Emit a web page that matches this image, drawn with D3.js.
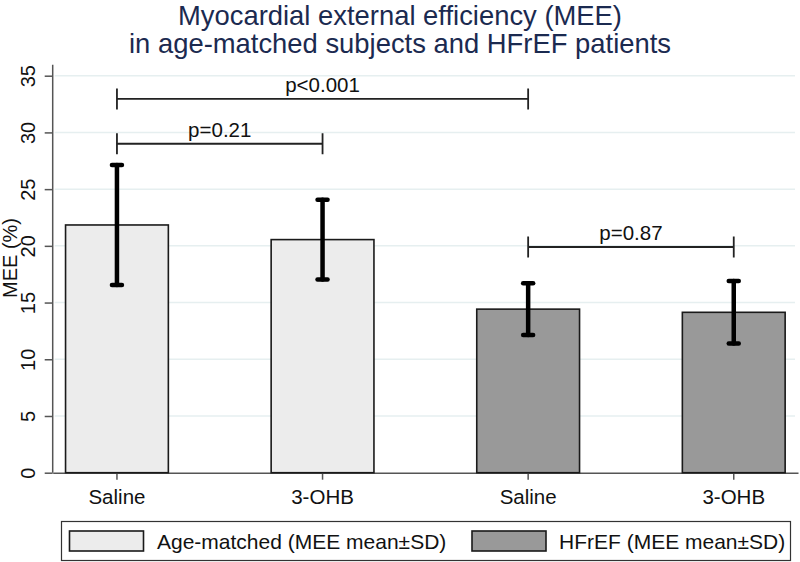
<!DOCTYPE html>
<html>
<head>
<meta charset="utf-8">
<script src="https://cdn.jsdelivr.net/npm/d3@7"></script>
<style>
  body { margin: 0; background: #fff; }
  svg text { font-family: "Liberation Sans", Arial, sans-serif; }
</style>
</head>
<body>
<div class="mee-plot"></div>
<script>
const groups = ['Saline', '3-OHB', 'Saline', '3-OHB'];
const cohort = ['Age-matched', 'Age-matched', 'HFrEF', 'HFrEF'];
const meanMEE = [21.84, 20.55, 14.42, 14.14];
const sdMEE = [5.29, 3.52, 2.28, 2.76];
const yTicks = [0, 5, 10, 15, 20, 25, 30, 35];
const legendLabels = ['Age-matched (MEE mean±SD)', 'HFrEF (MEE mean±SD)'];
// comparisons: from bar, to bar, height, label
const pFrom = [0, 0, 2];
const pTo = [2, 1, 3];
const pLevel = [32.95, 29.0, 19.9];
const pLabels = ['p<0.001', 'p=0.21', 'p=0.87'];

const width = 800;
const height = 562;
const plotLeft = 52.7, plotRight = 798;
const plotTop = 75.7, plotBottom = 472.7;

const svg = d3.select('.mee-plot')
  .append('svg')
  .attr('width', width)
  .attr('height', height);

const x = d3.scaleBand()
  .domain(d3.range(groups.length))
  .range([plotLeft, plotRight])
  .paddingInner(0.5)
  .paddingOuter(0.0625);

const y = d3.scaleLinear()
  .domain([0, 35])
  .range([plotBottom, plotTop]);

const fillColor = d3.scaleOrdinal()
  .domain(['Age-matched', 'HFrEF'])
  .range(['#ececec', '#999999']);

// title
svg.append('text')
  .attr('x', 400).attr('y', 25)
  .attr('text-anchor', 'middle')
  .attr('font-size', 27.4)
  .attr('fill', '#1b2a50')
  .text('Myocardial external efficiency (MEE)');
svg.append('text')
  .attr('x', 400).attr('y', 53)
  .attr('text-anchor', 'middle')
  .attr('font-size', 27.4)
  .attr('fill', '#1b2a50')
  .text('in age-matched subjects and HFrEF patients');

// gridlines
svg.append('g')
  .selectAll('line')
  .data(yTicks.filter(d => d > 0))
  .enter()
  .append('line')
  .attr('x1', plotLeft + 2)
  .attr('x2', plotRight - 3)
  .attr('y1', d => y(d))
  .attr('y2', d => y(d))
  .attr('stroke', '#e6eff0')
  .attr('stroke-width', 1.5);

// y axis
const yAxis = svg.append('g')
  .attr('transform', `translate(${plotLeft},0)`)
  .call(d3.axisLeft(y).tickValues(yTicks).tickSize(8).tickSizeOuter(0));
yAxis.select('.domain').attr('stroke', '#555').attr('stroke-width', 1.5)
  .attr('d', `M0,${plotBottom}V${plotTop - 11}`);
yAxis.selectAll('.tick line').attr('stroke', '#555').attr('stroke-width', 1.5);
yAxis.selectAll('.tick text')
  .attr('font-size', 20)
  .attr('fill', '#111')
  .attr('transform', 'rotate(-90)')
  .attr('x', 0)
  .attr('y', -17.5)
  .attr('dy', 0)
  .attr('text-anchor', 'middle');

svg.append('text')
  .attr('transform', 'translate(17,258) rotate(-90)')
  .attr('text-anchor', 'middle')
  .attr('font-size', 20)
  .attr('fill', '#111')
  .text('MEE (%)');

// x axis
const xAxis = svg.append('g')
  .attr('transform', `translate(0,${plotBottom})`)
  .call(d3.axisBottom(x).tickFormat(i => groups[i]).tickSize(7).tickSizeOuter(0));
xAxis.select('.domain').attr('stroke', '#555').attr('stroke-width', 1.5);
xAxis.selectAll('.tick line').attr('stroke', '#555').attr('stroke-width', 1.5);
xAxis.selectAll('.tick text')
  .attr('font-size', 20.5)
  .attr('fill', '#111')
  .attr('y', 31.5)
  .attr('dy', 0);

// bars
svg.append('g')
  .selectAll('rect')
  .data(meanMEE)
  .enter()
  .append('rect')
  .attr('x', (d, i) => x(i))
  .attr('width', x.bandwidth())
  .attr('y', d => y(d))
  .attr('height', d => y(0) - y(d))
  .attr('fill', (d, i) => fillColor(cohort[i]))
  .attr('stroke', '#1a1a1a')
  .attr('stroke-width', 1.6);

// error bars
const errG = svg.append('g')
  .attr('stroke', '#000')
  .attr('stroke-linecap', 'round');
meanMEE.forEach((m, i) => {
  const cx = x(i) + x.bandwidth() / 2;
  const hi = y(m + sdMEE[i]);
  const lo = y(m - sdMEE[i]);
  errG.append('line')
    .attr('x1', cx).attr('x2', cx)
    .attr('y1', hi).attr('y2', lo)
    .attr('stroke-width', 4.5);
  [hi, lo].forEach(v => {
    errG.append('line')
      .attr('x1', cx - 5).attr('x2', cx + 5)
      .attr('y1', v).attr('y2', v)
      .attr('stroke-width', 4.5);
  });
});

// significance brackets
const brG = svg.append('g');
pLabels.forEach((lab, k) => {
  const x1 = x(pFrom[k]) + x.bandwidth() / 2;
  const x2 = x(pTo[k]) + x.bandwidth() / 2;
  const yy = y(pLevel[k]);
  brG.append('path')
    .attr('d', `M${x1},${yy}H${x2}M${x1},${yy - 10.5}V${yy + 10.5}M${x2},${yy - 10.5}V${yy + 10.5}`)
    .attr('fill', 'none')
    .attr('stroke', '#222')
    .attr('stroke-width', 1.8);
  brG.append('text')
    .attr('x', (x1 + x2) / 2)
    .attr('y', yy - 7)
    .attr('text-anchor', 'middle')
    .attr('font-size', 20.5)
    .attr('fill', '#111')
    .text(lab);
});

// legend
const legend = svg.append('g');
legend.append('rect')
  .attr('x', 61.5).attr('y', 521.5)
  .attr('width', 729).attr('height', 39)
  .attr('fill', '#fff')
  .attr('stroke', '#333')
  .attr('stroke-width', 1.2);
const legX = [69.5, 472];
const legTextX = [157, 559];
legendLabels.forEach((lab, i) => {
  legend.append('rect')
    .attr('x', legX[i]).attr('y', 531)
    .attr('width', 74).attr('height', 20)
    .attr('fill', fillColor(['Age-matched', 'HFrEF'][i]))
    .attr('stroke', '#1a1a1a')
    .attr('stroke-width', 1.6);
  legend.append('text')
    .attr('x', legTextX[i]).attr('y', 548.5)
    .attr('font-size', 21)
    .attr('fill', '#111')
    .text(lab);
});
</script>
</body>
</html>
